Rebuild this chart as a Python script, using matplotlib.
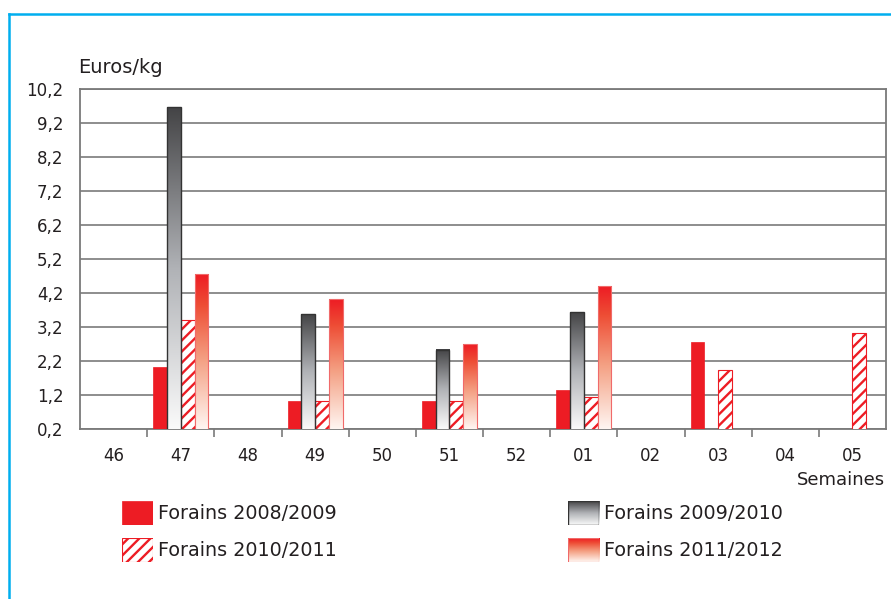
import numpy as np
import matplotlib
matplotlib.use('Agg')
import matplotlib.pyplot as plt
from matplotlib.colors import LinearSegmentedColormap
from matplotlib.patches import Rectangle
from matplotlib.lines import Line2D

plt.rcParams['font.family'] = ['DejaVu Sans']
plt.rcParams['hatch.linewidth'] = 1.7

nan = np.nan
weeks = ['46', '47', '48', '49', '50', '51', '52', '01', '02', '03', '04', '05']
forains_2008 = [nan, 2.01, nan, 1.02, nan, 1.03, nan, 1.35, nan, 2.76, nan, nan]
forains_2009 = [nan, 9.66, nan, 3.57, nan, 2.53, nan, 3.64, nan, nan, nan, nan]
forains_2010 = [nan, 3.40, nan, 1.02, nan, 1.02, nan, 1.14, nan, 1.94, nan, 3.03]
forains_2011 = [nan, 4.76, nan, 4.01, nan, 2.69, nan, 4.39, nan, nan, nan, nan]
labels = ['Forains 2008/2009', 'Forains 2009/2010', 'Forains 2010/2011', 'Forains 2011/2012']
yticks = [0.2, 1.2, 2.2, 3.2, 4.2, 5.2, 6.2, 7.2, 8.2, 9.2, 10.2]

RED = '#ed1c24'
TXT = '#231f20'
GRID = '#7a7a7a'
gray_cmap = LinearSegmentedColormap.from_list('g', [(0, '#fafafa'), (0.5, '#b0b2b6'), (1, '#444446')])
red_cmap = LinearSegmentedColormap.from_list('r', [(0, '#fff6f2'), (0.45, '#f4a083'), (0.8, '#ee4d35'), (1, RED)])
grad = np.linspace(0, 1, 256).reshape(-1, 1)

fig = plt.figure(figsize=(8.91, 5.99), dpi=100)
ax = fig.add_axes([0.0898, 0.2843, 0.9046, 0.5671])

x = np.arange(len(weeks))
w = 0.205
ymin, ymax = 0.2, 10.2


def gradient_bars(vals, offset, cmap, edge, lw):
    bars = ax.bar(x + offset, vals, w, facecolor='none', edgecolor=edge, linewidth=lw, zorder=4)
    for rect, v in zip(bars, vals):
        if np.isnan(v):
            continue
        x0 = rect.get_x()
        ax.imshow(grad, extent=[x0, x0 + w, ymin, v], origin='lower', cmap=cmap,
                  aspect='auto', zorder=3, interpolation='bilinear')


ax.bar(x - 1.5 * w, forains_2008, w, color=RED, edgecolor=RED, linewidth=0.5, zorder=3)
gradient_bars(forains_2009, -0.5 * w, gray_cmap, '#333333', 1.0)
ax.bar(x + 0.5 * w, forains_2010, w, color='white', edgecolor=RED, hatch='///', linewidth=0.8, zorder=3)
gradient_bars(forains_2011, 1.5 * w, red_cmap, '#f06a6a', 0.8)

ax.set_xlim(-0.5, len(weeks) - 0.5)
ax.set_ylim(ymin, ymax)
ax.set_yticks(yticks)
ax.set_yticklabels([f'{v:.1f}'.replace('.', ',') for v in yticks])
ax.set_xticks(x)
ax.set_xticklabels(weeks)
ax.set_xticks(np.arange(0.5, len(weeks) - 0.5), minor=True)
ax.tick_params(axis='x', which='major', length=0, pad=13, labelsize=12, labelcolor=TXT)
ax.tick_params(axis='x', which='minor', length=6, width=1.2, color=GRID, direction='out')
ax.tick_params(axis='y', length=0, pad=12, labelsize=12, labelcolor=TXT)
ax.yaxis.grid(True, color=GRID, linewidth=1.2, zorder=1)
ax.set_axisbelow(True)
for s in ['left', 'right', 'bottom', 'top']:
    ax.spines[s].set_color(GRID)
    ax.spines[s].set_linewidth(1.3)

fig.text(0.0875, 0.888, 'Euros/kg', fontsize=14, color=TXT, va='center', ha='left')
fig.text(0.993, 0.199, 'Semaines', fontsize=13, color=TXT, va='center', ha='right')

# legend drawn by hand
hw, hh = 0.0348, 0.040
handles = [(0.137, 0.1235), (0.6375, 0.1235), (0.137, 0.0618), (0.6375, 0.0618)]
for i, (hx, hy) in enumerate(handles):
    hax = fig.add_axes([hx, hy, hw, hh])
    hax.set_xlim(0, 1)
    hax.set_ylim(0, 1)
    hax.axis('off')
    if i == 0:
        hax.add_patch(Rectangle((0, 0), 1, 1, facecolor=RED, edgecolor=RED, lw=0.5))
    elif i == 1:
        hax.imshow(grad, extent=[0, 1, 0, 1], origin='lower', cmap=gray_cmap, aspect='auto')
        hax.add_patch(Rectangle((0, 0), 1, 1, facecolor='none', edgecolor='#333333', lw=1.0))
    elif i == 2:
        hax.add_patch(Rectangle((0, 0), 1, 1, facecolor='white', edgecolor=RED, hatch='///', lw=0.8))
    else:
        hax.imshow(grad, extent=[0, 1, 0, 1], origin='lower', cmap=red_cmap, aspect='auto')
        hax.add_patch(Rectangle((0, 0), 1, 1, facecolor='none', edgecolor='#f06a6a', lw=0.8))
    fig.text(hx + hw + 0.006, hy + hh / 2, labels[i], fontsize=13.8, color=TXT, va='center', ha='left')

# blue frame
fig.add_artist(Line2D([0.0101, 1.0], [0.9766, 0.9766], color='#00aeef', lw=1.8, transform=fig.transFigure))
fig.add_artist(Line2D([0.0101, 0.0101], [0.0, 0.9766], color='#00aeef', lw=1.8, transform=fig.transFigure))

fig.savefig('out.png', dpi=100)
